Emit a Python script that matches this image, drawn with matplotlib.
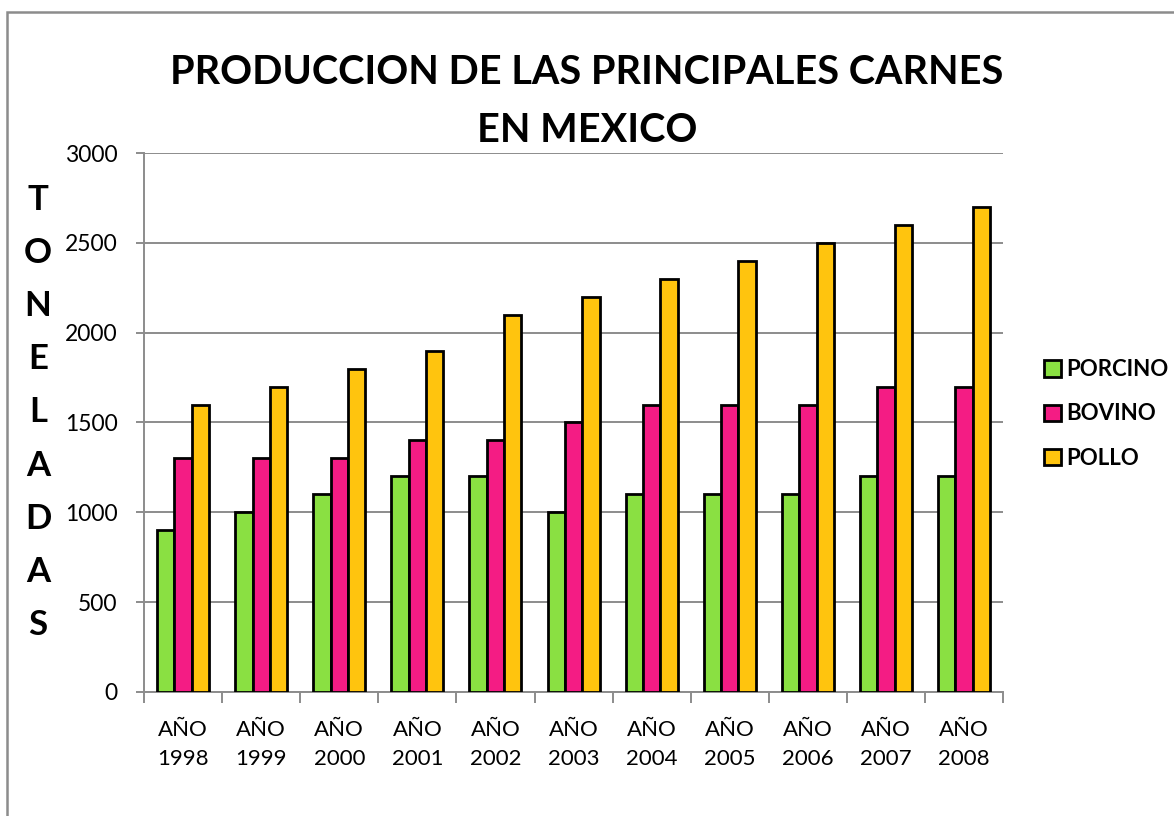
import numpy as np
import matplotlib
matplotlib.use("Agg")
import matplotlib.pyplot as plt
from matplotlib.patches import Rectangle

plt.rcParams['font.family'] = ['Lato', 'DejaVu Sans']

# datos de produccion por año
anios = ["1998", "1999", "2000", "2001", "2002", "2003", "2004", "2005", "2006", "2007", "2008"]
porcino = [900, 1000, 1100, 1200, 1200, 1000, 1100, 1100, 1100, 1200, 1200]
bovino = [1300, 1300, 1300, 1400, 1400, 1500, 1600, 1600, 1600, 1700, 1700]
pollo = [1600, 1700, 1800, 1900, 2100, 2200, 2300, 2400, 2500, 2600, 2700]

series = [("PORCINO", porcino, "#8ae042"),
          ("BOVINO", bovino, "#f41c84"),
          ("POLLO", pollo, "#ffc40e")]

fig = plt.figure(figsize=(11.74, 8.16), dpi=100)
ax = fig.add_axes([0.1227, 0.152, 0.7317, 0.6605])

# marco gris alrededor del grafico
fig.patches.append(Rectangle((7 / 1174, -0.1), 1.2, 1.1 - 12 / 816, transform=fig.transFigure,
                             fill=False, edgecolor="#8c8c8c", linewidth=1.8, zorder=0))

x = np.arange(len(anios))
ancho = 0.222
for i, (nombre, valores, color) in enumerate(series):
    ax.bar(x + (i - 1) * ancho, valores, ancho, color=color, edgecolor="black",
           linewidth=2.0, label=nombre, zorder=3)

ax.set_xlim(-0.5, len(anios) - 0.5)
ax.set_ylim(0, 3000)
ax.set_yticks(np.arange(0, 3001, 500))
ax.yaxis.grid(True, color="#8c8c8c", linewidth=1.4, zorder=0)

# marcas en los limites de cada categoria, etiquetas al centro
ax.set_xticks(np.arange(-0.5, len(anios), 1))
ax.set_xticklabels([])
ax.set_xticks(x, minor=True)
ax.set_xticklabels(["AÑO\n" + a for a in anios], minor=True, linespacing=1.6)
ax.tick_params(axis="x", which="major", length=8, width=1.4, color="#8c8c8c", direction="out")
ax.tick_params(axis="x", which="minor", length=0, pad=20, labelsize=16)
ax.tick_params(axis="y", length=6, width=1.4, color="#8c8c8c", pad=13, labelsize=16.5)

for lado in ["top", "right"]:
    ax.spines[lado].set_visible(False)
for lado in ["left", "bottom"]:
    ax.spines[lado].set_color("#8c8c8c")
    ax.spines[lado].set_linewidth(1.4)

fig.text(0.5, 1 - 73 / 816, "PRODUCCION DE LAS PRINCIPALES CARNES", ha="center", va="center",
         fontsize=28.5, fontweight="bold")
fig.text(0.5, 1 - 130 / 816, "EN MEXICO", ha="center", va="center",
         fontsize=28.5, fontweight="bold")

# etiqueta vertical del eje y, letra por letra
for k, letra in enumerate("TONELADAS"):
    fig.text(38 / 1174, 1 - (200 + k * 53.1) / 816, letra, ha="center", va="center",
             fontsize=25, fontweight="bold")

leg = ax.legend(loc="center left", bbox_to_anchor=(1024 / 1174, 1 - 414 / 816),
                bbox_transform=fig.transFigure, frameon=False, prop={"weight": "bold", "size": 16},
                handlelength=0.75, handleheight=0.75, handletextpad=0.25, labelspacing=1.05)

fig.savefig("out.png", dpi=100)
